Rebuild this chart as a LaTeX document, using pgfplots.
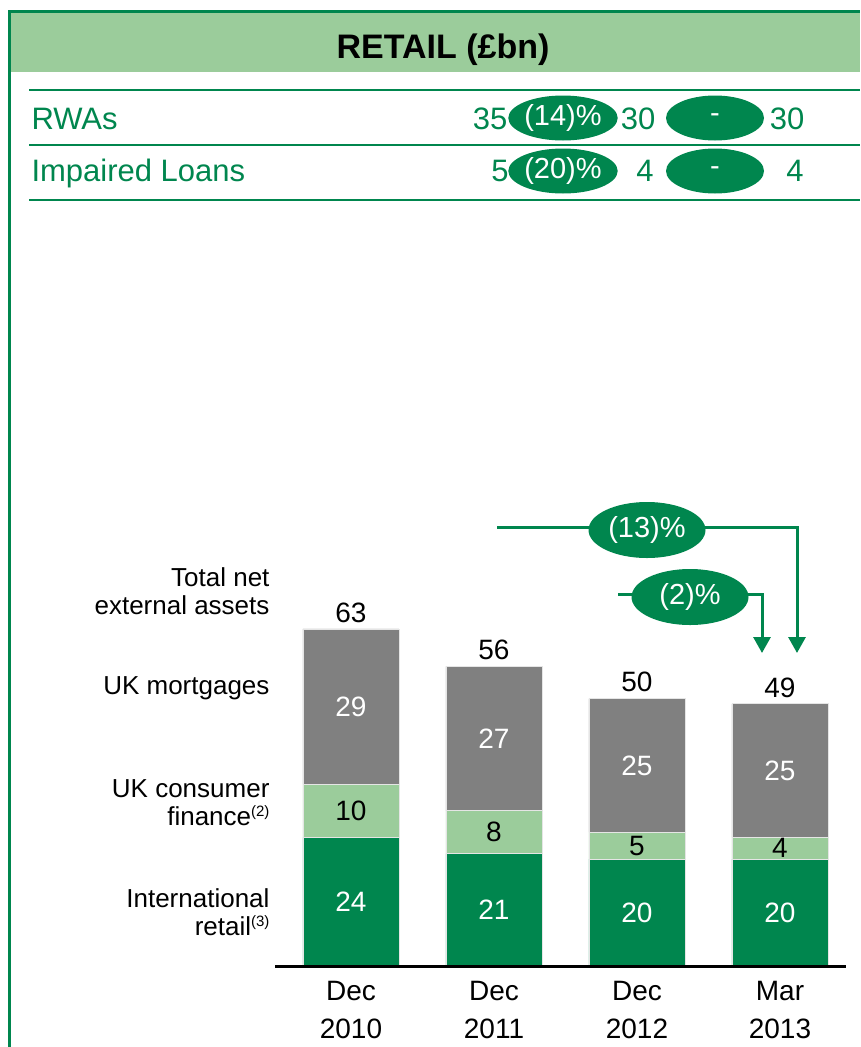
\documentclass[border=0pt]{standalone}
\usepackage{fontspec}
\setmainfont{Liberation Sans}
\usepackage{pgfplots}
\usepackage{pgfplotstable}
\pgfplotsset{compat=1.18}
\usetikzlibrary{shapes.geometric, arrows.meta}

\definecolor{dkgreen}{RGB}{0,134,78}
\definecolor{ltgreen}{RGB}{155,204,155}
\definecolor{midgray}{RGB}{128,128,128}

\pgfplotstableread{
x intl cons mort total
0 24 10 29 63
1 21 8  27 56
2 20 5  25 50
3 20 4  25 49
}\retail

\newcommand{\fs}[1]{\fontsize{#1}{#1}\selectfont}

\pgfplotsset{retailaxis/.style={
    at={(275.2pt,-966pt)}, anchor=south west,
    x=143pt, y=5.35pt,
    xmin=-0.53, xmax=3.46, ymin=0, ymax=70,
    clip=false,
    /pgf/number format/assume math mode=true,
}}

\begin{document}
\begin{tikzpicture}[x=1pt, y=1pt]
\path[use as bounding box] (0,0) rectangle (860,-1047);

% frame and header
\fill[ltgreen] (9,-11) rectangle (860,-72);
\draw[dkgreen, line width=3pt] (9,-1047) -- (9,-11) -- (860,-11);
\node[anchor=base, font=\bfseries\fs{34}] at (443,-58) {RETAIL (£bn)};

% table rows
\foreach \yy in {90,145,200} \draw[dkgreen, line width=2.5pt] (29,-\yy) -- (860,-\yy);
\begin{scope}[every node/.style={text=dkgreen, font=\fs{31}}]
\node[anchor=base west] at (28,-129) {RWAs};
\node[anchor=base west] at (28,-181) {Impaired Loans};
\node[anchor=base] at (490,-129) {35};
\node[anchor=base] at (638,-129) {30};
\node[anchor=base] at (787,-129) {30};
\node[anchor=base] at (500,-181) {5};
\node[anchor=base] at (645,-181) {4};
\node[anchor=base] at (795,-181) {4};
\end{scope}
\begin{scope}[every node/.style={ellipse, fill=dkgreen, text=white, inner sep=0pt, minimum width=98pt, minimum height=45pt, font=\fs{29}}]
\node at (563,-118) {(14)\%};
\node at (715,-118) {\raisebox{-3pt}{-}};
\node at (563,-171) {(20)\%};
\node at (715,-171) {\raisebox{-3pt}{-}};
\end{scope}

% change arrows
\draw[dkgreen, line width=3pt, -{Triangle[length=16pt, width=17pt]}] (497,-527) -- (797,-527) -- (797,-653);
\draw[dkgreen, line width=3pt, -{Triangle[length=16pt, width=17pt]}] (618,-594) -- (762,-594) -- (762,-653);
\node[ellipse, fill=dkgreen, text=white, inner sep=0pt, minimum width=117pt, minimum height=56pt, font=\fs{29}] at (647,-530) {(13)\%};
\node[ellipse, fill=dkgreen, text=white, inner sep=0pt, minimum width=117pt, minimum height=56pt, font=\fs{29}] at (690,-597) {(2)\%};

% series labels
\begin{scope}[every node/.style={anchor=east, align=right, font=\fontsize{26}{28}\selectfont}]
\node at (273,-591) {Total net\\external assets};
\node at (273,-688) {UK mortgages};
\node at (273,-803) {UK consumer\\finance\raisebox{9pt}{\fs{15}(2)}};
\node at (273,-912) {International\\retail\raisebox{9pt}{\fs{15}(3)}};
\end{scope}

\begin{axis}[
    retailaxis,
    axis on top,
    ybar stacked, bar width=96pt,
    axis x line=bottom, axis y line=none,
    axis line style={-, line width=3pt, black},
    xtick=data, major tick length=0pt,
    xticklabels={Dec\\2010, Dec\\2011, Dec\\2012, Mar\\2013},
    xticklabel style={align=center, font=\fontsize{28}{38}\selectfont, yshift=-12pt},
    nodes near coords,
    every node near coord/.append style={font=\fs{28}, anchor=center},
]
\addplot[fill=dkgreen, draw=white!80!gray, line width=0.8pt,
    point meta=\thisrow{intl},
    every node near coord/.append style={text=white}]
    table[x=x, y=intl] {\retail};
\addplot[fill=ltgreen, draw=white!80!gray, line width=0.8pt,
    point meta=\thisrow{cons},
    every node near coord/.append style={text=black}]
    table[x=x, y=cons] {\retail};
\addplot[fill=midgray, draw=white!80!gray, line width=0.8pt,
    point meta=\thisrow{mort},
    every node near coord/.append style={text=white}]
    table[x=x, y=mort] {\retail};
\end{axis}

% totals above the bars
\begin{axis}[
    retailaxis,
    hide axis,
    nodes near coords,
    point meta=explicit,
    every node near coord/.append style={font=\fs{28}, text=black, anchor=south, yshift=3pt},
]
\addplot[only marks, mark=none, draw=none] table[x=x, y=total, meta=total] {\retail};
\end{axis}
\end{tikzpicture}
\end{document}
